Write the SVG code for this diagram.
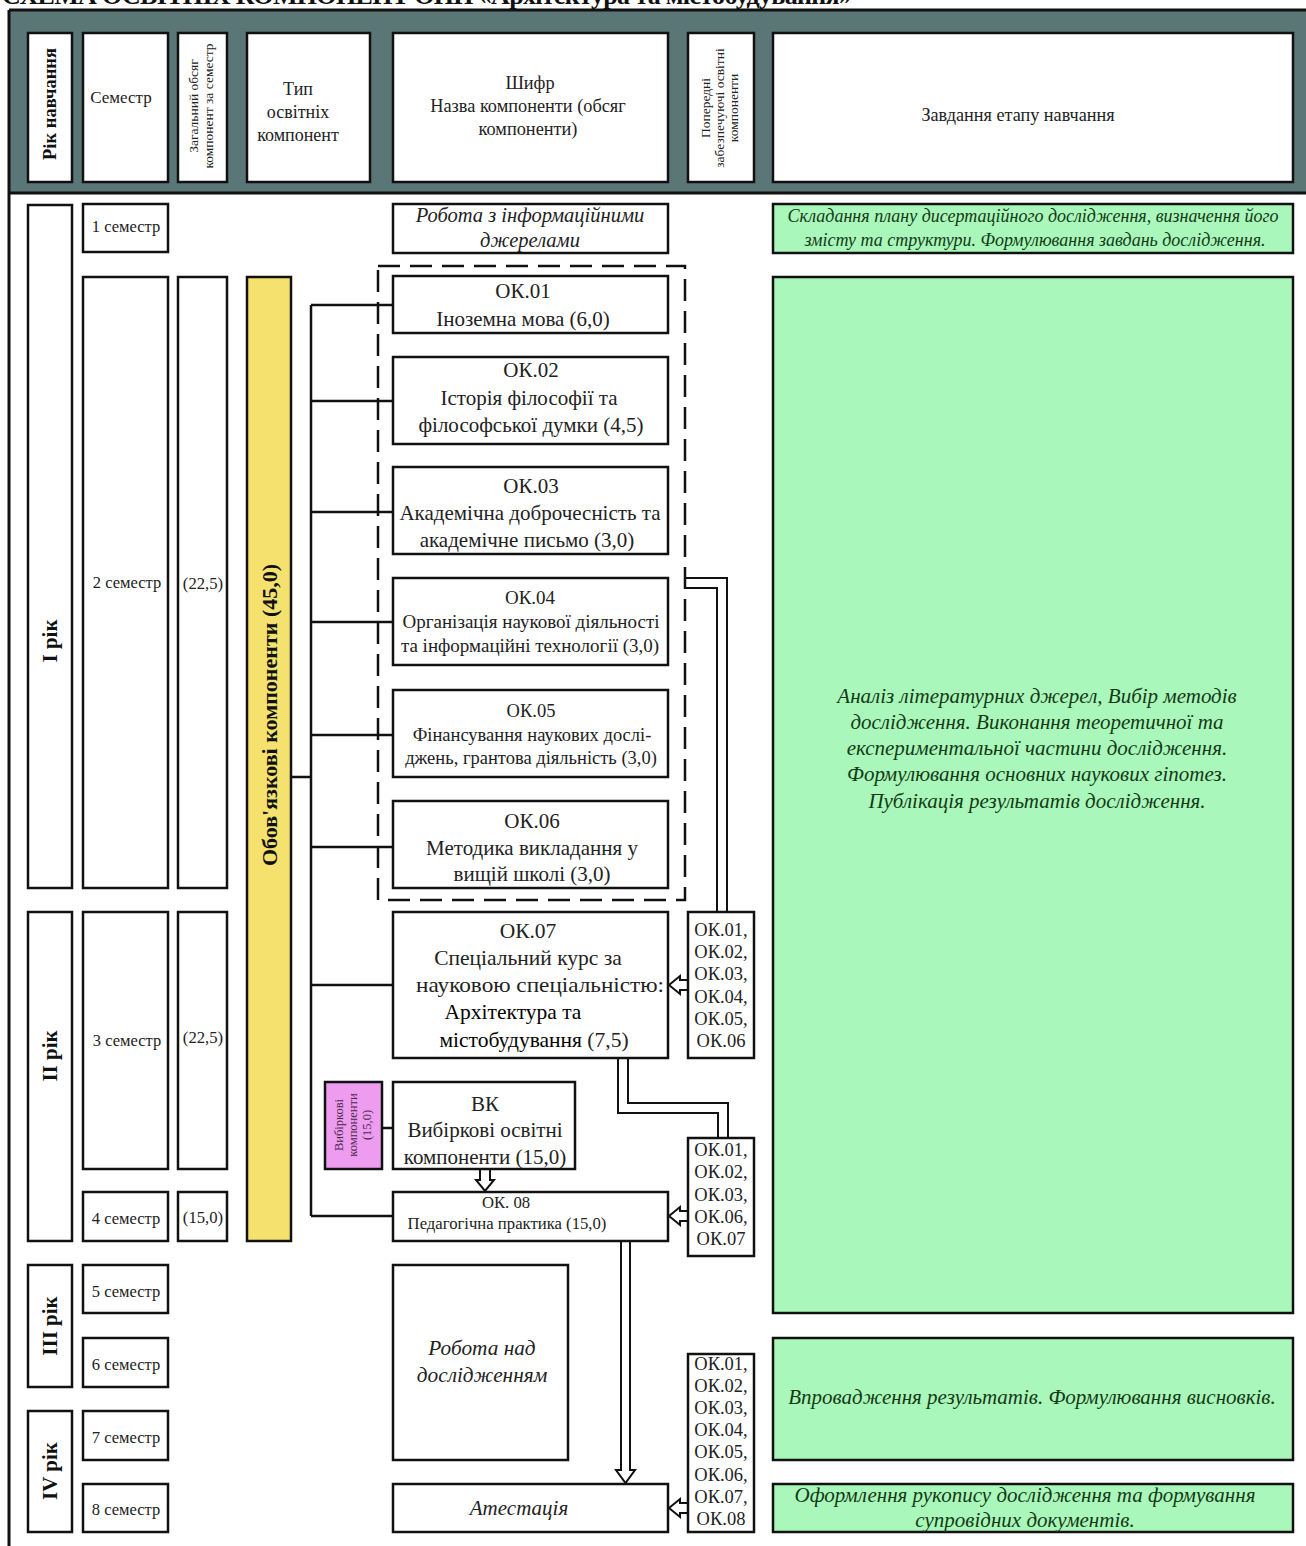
<svg xmlns="http://www.w3.org/2000/svg" width="1306" height="1546" viewBox="0 0 1306 1546">
<style>
.b{fill:#fff;stroke:#111;stroke-width:2.5}
.g{fill:#a9f7bb;stroke:#111;stroke-width:2.5}
.y{fill:#f5e26e;stroke:#111;stroke-width:2.5}
.p{fill:#ee9cf0;stroke:#111;stroke-width:2.5}
.t{font-family:"Liberation Serif","Times New Roman",serif;fill:#222;text-anchor:middle}
.i{font-style:italic}
.gt{fill:#143a14}
.bd{font-weight:bold;fill:#111}
.ln{fill:none;stroke:#111;stroke-width:2.5}
.dl{fill:none;stroke:#111;stroke-width:2}
.ar{fill:#fff;stroke:#111;stroke-width:2;stroke-linejoin:miter}
</style>
<rect width="1306" height="1546" fill="#fff"/>
<text x="2" y="4" class="t bd" style="text-anchor:start" font-size="26" textLength="850" lengthAdjust="spacing">СХЕМА ОСВІТНІХ КОМПОНЕНТ ОНП «Архітектура та містобудування»</text>
<!-- frame and header band -->
<g id="frame">
<rect x="9" y="10" width="1300" height="183" fill="#5b7676"/>
<line x1="9" y1="10" x2="1306" y2="10" stroke="#111" stroke-width="3"/>
<line x1="9" y1="193" x2="1306" y2="193" stroke="#111" stroke-width="3"/>
<line x1="9" y1="10" x2="9" y2="1546" stroke="#111" stroke-width="3"/>
</g>
<g id="header">
<rect class="b" x="28" y="33" width="44" height="149"/>
<text class="t bd" font-size="18.5" transform="translate(56,104) rotate(-90)">Рік навчання</text>
<rect class="b" x="83" y="33" width="85" height="149"/>
<text class="t" font-size="17" x="121" y="103">Семестр</text>
<rect class="b" x="178" y="33" width="49" height="149"/>
<text class="t" font-size="13.5" transform="translate(198,106) rotate(-90)">Загальний обсяг</text>
<text class="t" font-size="13.5" transform="translate(213,106) rotate(-90)">компонент за семестр</text>
<rect class="b" x="247" y="33" width="123" height="149"/>
<text class="t" font-size="18" x="298" y="95">Тип</text>
<text class="t" font-size="18" x="298" y="118">освітніх</text>
<text class="t" font-size="18" x="298" y="141">компонент</text>
<rect class="b" x="393" y="33" width="275" height="149"/>
<text class="t" font-size="18.3" x="530" y="89">Шифр</text>
<text class="t" font-size="18.3" x="528" y="112">Назва компоненти (обсяг</text>
<text class="t" font-size="18.3" x="528" y="135">компоненти)</text>
<rect class="b" x="688" y="33" width="66" height="149"/>
<text class="t" font-size="13.5" transform="translate(710,108) rotate(-90)">Попередні</text>
<text class="t" font-size="13.5" transform="translate(724,108) rotate(-90)">забезпечуючі освітні</text>
<text class="t" font-size="13.5" transform="translate(738,108) rotate(-90)">компоненти</text>
<rect class="b" x="773" y="33" width="520" height="149"/>
<text class="t" font-size="18.2" x="1018" y="121">Завдання етапу навчання</text>
</g>
<!-- years -->
<g id="year1"><rect class="b" x="28" y="205" width="44" height="683"/><text class="t bd" font-size="21" transform="translate(57,641) rotate(-90)">I рік</text></g>
<g id="year2"><rect class="b" x="28" y="912" width="44" height="329"/><text class="t bd" font-size="21" transform="translate(57,1056) rotate(-90)">II рік</text></g>
<g id="year3"><rect class="b" x="28" y="1265" width="44" height="122"/><text class="t bd" font-size="21" transform="translate(57,1326) rotate(-90)">III рік</text></g>
<g id="year4"><rect class="b" x="28" y="1411" width="44" height="121"/><text class="t bd" font-size="21" transform="translate(57,1471) rotate(-90)">IV рік</text></g>
<!-- semesters -->
<g id="sem1"><rect class="b" x="83" y="204" width="85" height="48"/><text class="t" font-size="16.5" x="126" y="232">1 семестр</text></g>
<g id="sem2"><rect class="b" x="83" y="277" width="85" height="611"/><text class="t" font-size="16.5" x="127" y="588">2 семестр</text></g>
<g id="sem3"><rect class="b" x="83" y="912" width="85" height="257"/><text class="t" font-size="16.5" x="127" y="1046">3 семестр</text></g>
<g id="sem4"><rect class="b" x="83" y="1192" width="85" height="49"/><text class="t" font-size="16.5" x="126" y="1224">4 семестр</text></g>
<g id="sem5"><rect class="b" x="83" y="1265" width="85" height="48"/><text class="t" font-size="16.5" x="126" y="1297">5 семестр</text></g>
<g id="sem6"><rect class="b" x="83" y="1338" width="85" height="49"/><text class="t" font-size="16.5" x="126" y="1370">6 семестр</text></g>
<g id="sem7"><rect class="b" x="83" y="1411" width="85" height="49"/><text class="t" font-size="16.5" x="126" y="1443">7 семестр</text></g>
<g id="sem8"><rect class="b" x="83" y="1484" width="85" height="48"/><text class="t" font-size="16.5" x="126" y="1515">8 семестр</text></g>
<!-- credits -->
<g id="cr2"><rect class="b" x="178" y="277" width="49" height="611"/><text class="t" font-size="16.7" x="203" y="589">(22,5)</text></g>
<g id="cr3"><rect class="b" x="178" y="912" width="49" height="257"/><text class="t" font-size="16.7" x="203" y="1043">(22,5)</text></g>
<g id="cr4"><rect class="b" x="178" y="1192" width="49" height="49"/><text class="t" font-size="16.7" x="203" y="1223">(15,0)</text></g>
<!-- mandatory bar -->
<g id="mandatory"><rect class="y" x="247" y="277" width="44" height="964"/><text class="t bd" font-size="22" transform="translate(277,715) rotate(-90)">Обов'язкові компоненти (45,0)</text></g>
<!-- connectors -->
<g id="connectors">
<path class="ln" d="M311,305 V1216 M291,777 H311 M311,305 H393 M311,401 H393 M311,512 H393 M311,622 H393 M311,735 H393 M311,847 H393 M311,985 H393 M311,1216 H393 M382,1128 H393"/>
<rect x="378" y="266" width="307" height="634" fill="none" stroke="#111" stroke-width="2.5" stroke-dasharray="22 10"/>
<path class="dl" d="M685,578 H727 V912 M685,588 H717 V912"/>
<path class="dl" d="M618,1058 V1113 H718 V1138 M628,1058 V1103 H728 V1138"/>
<polygon class="ar" points="688,980 680,980 680,976 669,985 680,994 680,990 688,990"/>
<polygon class="ar" points="688,1211 680,1211 680,1207 669,1216 680,1225 680,1221 688,1221"/>
<polygon class="ar" points="688,1503 680,1503 680,1499 669,1508 680,1517 680,1513 688,1513"/>
<polygon class="ar" points="480,1169 480,1180 476,1180 485,1191 494,1180 490,1180 490,1169"/>
<polygon class="ar" points="621,1241 621,1470 616,1470 625.5,1483 635,1470 630,1470 630,1241"/>
</g>
<!-- components -->
<g id="info"><rect class="b" x="393" y="204" width="275" height="49"/><text class="t i" font-size="20.5" x="530" y="222">Робота з інформаційними</text><text class="t i" font-size="20.5" x="530" y="247">джерелами</text></g>
<g id="ok01"><rect class="b" x="393" y="276" width="275" height="57"/><text class="t" font-size="21" x="523" y="298">ОК.01</text><text class="t" font-size="21" x="523" y="326">Іноземна мова (6,0)</text></g>
<g id="ok02"><rect class="b" x="393" y="357" width="275" height="87"/><text class="t" font-size="21" x="531" y="377">ОК.02</text><text class="t" font-size="21" x="529" y="405">Історія філософії та</text><text class="t" font-size="21" x="531" y="432">філософської думки  (4,5)</text></g>
<g id="ok03"><rect class="b" x="393" y="467" width="275" height="87"/><text class="t" font-size="21" x="531" y="493">ОК.03</text><text class="t" font-size="21" x="530" y="520">Академічна доброчесність та</text><text class="t" font-size="21" x="527" y="547">академічне письмо  (3,0)</text></g>
<g id="ok04"><rect class="b" x="393" y="578" width="275" height="87"/><text class="t" font-size="19" x="530" y="604">ОК.04</text><text class="t" font-size="19" x="531" y="628">Організація  наукової діяльності</text><text class="t" font-size="19" x="530" y="652">та інформаційні технології (3,0)</text></g>
<g id="ok05"><rect class="b" x="393" y="690" width="275" height="87"/><text class="t" font-size="18.5" x="531" y="717">ОК.05</text><text class="t" font-size="18.5" x="532" y="741">Фінансування наукових дослі-</text><text class="t" font-size="18.5" x="531" y="764">джень, грантова діяльність (3,0)</text></g>
<g id="ok06"><rect class="b" x="393" y="801" width="275" height="87"/><text class="t" font-size="21" x="532" y="828">ОК.06</text><text class="t" font-size="21" x="532" y="855">Методика викладання у</text><text class="t" font-size="21" x="532" y="881">вищій школі (3,0)</text></g>
<g id="ok07"><rect class="b" x="393" y="912" width="275" height="146"/><text class="t" font-size="21.5" x="528" y="938">ОК.07</text><text class="t" font-size="21.5" x="528" y="965">Спеціальний курс за</text><text class="t" font-size="21.5" x="540" y="992" textLength="248" lengthAdjust="spacingAndGlyphs">науковою спеціальністю:</text><text class="t" font-size="21.5" x="513" y="1019" style="fill:#000">Архітектура та</text><text class="t" font-size="21.5" x="534" y="1047"><tspan style="fill:#000">містобудування</tspan> (7,5)</text></g>
<g id="vkside"><rect class="p" x="325" y="1082" width="57" height="87"/><text class="t" font-size="12.5" transform="translate(343,1125) rotate(-90)" style="fill:#4a2a4a">Вибіркові</text><text class="t" font-size="12.5" transform="translate(357,1125) rotate(-90)" style="fill:#4a2a4a">компоненти</text><text class="t" font-size="12.5" transform="translate(371,1125) rotate(-90)" style="fill:#4a2a4a">(15,0)</text></g>
<g id="vk"><rect class="b" x="393" y="1082" width="182" height="87"/><text class="t" font-size="21" x="485" y="1111">ВК</text><text class="t" font-size="21" x="485" y="1137">Вибіркові освітні</text><text class="t" font-size="21" x="485" y="1164">компоненти  (15,0)</text></g>
<g id="ok08"><rect class="b" x="393" y="1192" width="275" height="49"/><text class="t" font-size="16.7" x="506" y="1208">ОК. 08</text><text class="t" font-size="16.7" x="507" y="1229">Педагогічна практика (15,0)</text></g>
<g id="research"><rect class="b" x="393" y="1265" width="175" height="195"/><text class="t i" font-size="21.3" x="482" y="1355">Робота над</text><text class="t i" font-size="21.3" x="482" y="1382">дослідженням</text></g>
<g id="attest"><rect class="b" x="393" y="1484" width="275" height="48"/><text class="t i" font-size="21" x="519" y="1515">Атестація</text></g>
<!-- prerequisites -->
<g id="pre1"><rect class="b" x="688" y="912" width="66" height="146"/>
<text class="t" font-size="18.5" x="721" y="936">ОК.01,</text><text class="t" font-size="18.5" x="721" y="958">ОК.02,</text><text class="t" font-size="18.5" x="721" y="980">ОК.03,</text><text class="t" font-size="18.5" x="721" y="1003">ОК.04,</text><text class="t" font-size="18.5" x="721" y="1025">ОК.05,</text><text class="t" font-size="18.5" x="721" y="1047">ОК.06</text></g>
<g id="pre2"><rect class="b" x="688" y="1138" width="66" height="118"/>
<text class="t" font-size="18.5" x="721" y="1156">ОК.01,</text><text class="t" font-size="18.5" x="721" y="1178">ОК.02,</text><text class="t" font-size="18.5" x="721" y="1201">ОК.03,</text><text class="t" font-size="18.5" x="721" y="1223">ОК.06,</text><text class="t" font-size="18.5" x="721" y="1245">ОК.07</text></g>
<g id="pre3"><rect class="b" x="688" y="1354" width="66" height="178"/>
<text class="t" font-size="18.5" x="721" y="1370">ОК.01,</text><text class="t" font-size="18.5" x="721" y="1392">ОК.02,</text><text class="t" font-size="18.5" x="721" y="1414">ОК.03,</text><text class="t" font-size="18.5" x="721" y="1436">ОК.04,</text><text class="t" font-size="18.5" x="721" y="1458">ОК.05,</text><text class="t" font-size="18.5" x="721" y="1481">ОК.06,</text><text class="t" font-size="18.5" x="721" y="1503">ОК.07,</text><text class="t" font-size="18.5" x="721" y="1525">ОК.08</text></g>
<!-- tasks -->
<g id="task1"><rect class="g" x="773" y="204" width="520" height="49"/><text class="t i gt" font-size="18" x="1033" y="222">Складання плану дисертаційного дослідження, визначення його</text><text class="t i gt" font-size="18" x="1035" y="246">змісту та структури. Формулювання  завдань дослідження.</text></g>
<g id="task2"><rect class="g" x="773" y="277" width="520" height="1036"/>
<text class="t i gt" font-size="21" x="1037" y="703">Аналіз літературних джерел, Вибір методів</text>
<text class="t i gt" font-size="21" x="1037" y="729">дослідження. Виконання теоретичної та</text>
<text class="t i gt" font-size="21" x="1037" y="755">експериментальної частини дослідження.</text>
<text class="t i gt" font-size="21" x="1037" y="781">Формулювання основних наукових гіпотез.</text>
<text class="t i gt" font-size="21" x="1037" y="808">Публікація результатів дослідження.</text></g>
<g id="task3"><rect class="g" x="773" y="1338" width="520" height="122"/><text class="t i gt" font-size="21" x="1032" y="1404">Впровадження результатів. Формулювання висновків.</text></g>
<g id="task4"><rect class="g" x="773" y="1484" width="520" height="48"/><text class="t i gt" font-size="21" x="1025" y="1502">Оформлення рукопису дослідження та формування</text><text class="t i gt" font-size="21" x="1025" y="1527">супровідних документів.</text></g>
</svg>
